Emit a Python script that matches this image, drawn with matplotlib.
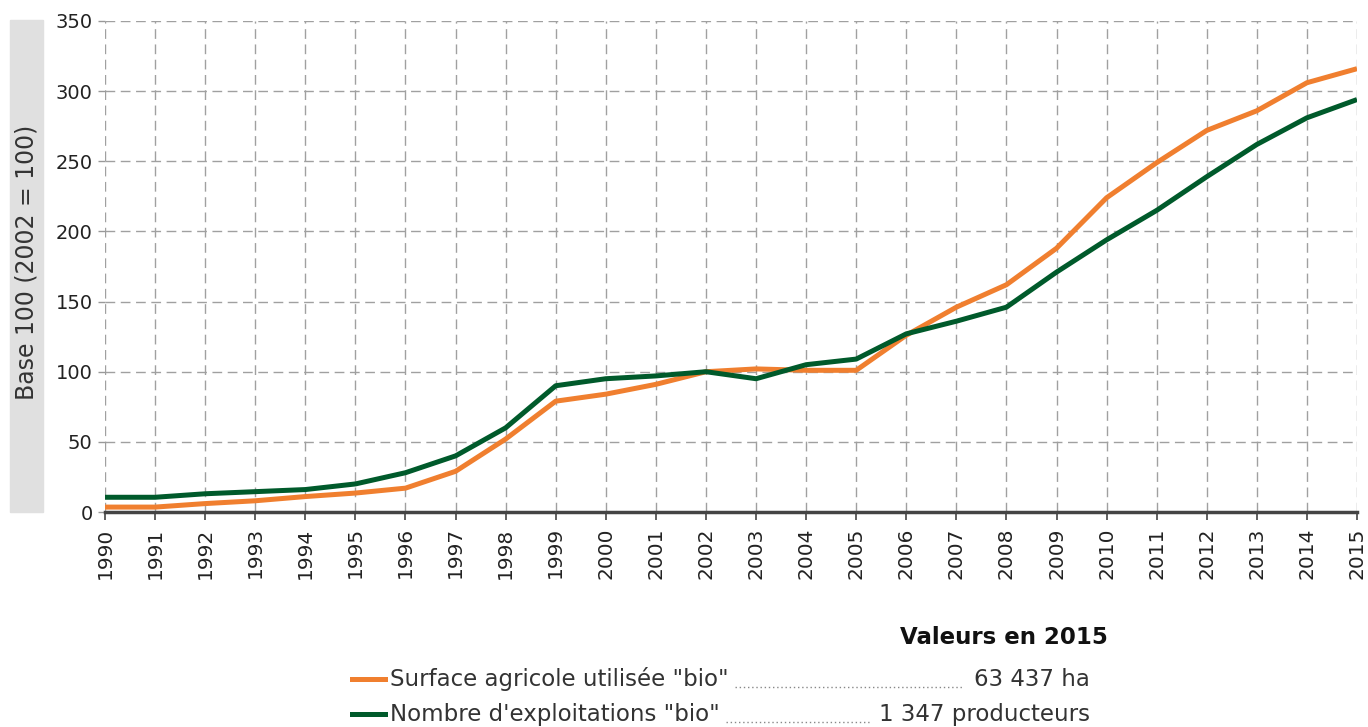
import matplotlib.pyplot as plt
from matplotlib.patches import Rectangle
from matplotlib.lines import Line2D

# Données (base 100 en 2002)
annees = list(range(1990, 2016))
surface_bio = [3.5, 3.5, 6, 8, 11, 13.5, 17, 29, 52, 79, 84, 91, 100,
               102, 101, 101, 126, 146, 162, 188, 224, 249, 272, 286, 306, 316]
exploitations_bio = [10.5, 10.5, 13, 14.5, 16, 20, 28, 40, 60, 90, 95, 97, 100,
                     95, 105, 109, 127, 136, 146, 171, 194, 215, 239, 262, 281, 294]
y_ticks = [0, 50, 100, 150, 200, 250, 300, 350]

noms = ['Surface agricole utilisée "bio"', 'Nombre d\'exploitations "bio"']
valeurs_2015 = ["63 437 ha", "1 347 producteurs"]
couleurs = ["#F07F2F", "#005A2B"]

W, H = 1368, 727
fig = plt.figure(figsize=(W / 100, H / 100), dpi=100)
ax = fig.add_axes([105 / W, 1 - 512 / H, (1357 - 105) / W, (512 - 21) / H])

ax.plot(annees, surface_bio, color=couleurs[0], lw=3.6, solid_capstyle="butt", zorder=3)
ax.plot(annees, exploitations_bio, color=couleurs[1], lw=3.6, solid_capstyle="butt", zorder=4)

ax.set_xlim(1990, 2015)
ax.set_ylim(0, 350)
ax.set_xticks(annees)
ax.set_xticklabels([str(a) for a in annees], rotation=90, fontsize=14.5, color="#222222")
ax.set_yticks(y_ticks)
ax.set_yticklabels([str(v) for v in y_ticks], fontsize=14, color="#222222")
ax.tick_params(axis="y", length=5, color="#999999", width=1, pad=4)
ax.tick_params(axis="x", length=6, color="#444444", width=1.2, pad=5)
ax.grid(True, color="#A0A0A0", linestyle=(0, (7, 4)), linewidth=1)
for s in ["top", "right", "left"]:
    ax.spines[s].set_visible(False)
ax.spines["bottom"].set_color("#444444")
ax.spines["bottom"].set_linewidth(2.5)
ax.spines["bottom"].set_zorder(5)

# Titre de l'axe y dans un bandeau gris
fig.patches.append(Rectangle((10 / W, 1 - 512 / H), 33 / W, (512 - 20) / H,
                             transform=fig.transFigure, color="#E0E0E0", zorder=0))
fig.text(27 / W, 1 - 262 / H, "Base 100 (2002 = 100)", rotation=90, ha="center",
         va="center", fontsize=17, color="#333333")

# Légende en bas
fig.text(1108 / W, 1 - 637 / H, "Valeurs en 2015", ha="right", va="center",
         fontsize=16.5, fontweight="bold", color="#111111")
lignes_y = [679, 714]
fin_texte = [735, 726]
debut_val = [962, 870]
for i in range(2):
    y = 1 - lignes_y[i] / H
    fig.add_artist(Line2D([352 / W, 385 / W], [y, y], color=couleurs[i], lw=3.6,
                          transform=fig.transFigure))
    fig.text(390 / W, y, noms[i], ha="left", va="center", fontsize=16.5, color="#333333")
    fig.add_artist(Line2D([fin_texte[i] / W, debut_val[i] / W], [y - 8 / H, y - 8 / H],
                          color="#888888", lw=1, linestyle=(0, (1, 2)),
                          transform=fig.transFigure))
    fig.text(1090 / W, y, valeurs_2015[i], ha="right", va="center", fontsize=16.5,
             color="#333333")

fig.savefig("out.png", dpi=100)
